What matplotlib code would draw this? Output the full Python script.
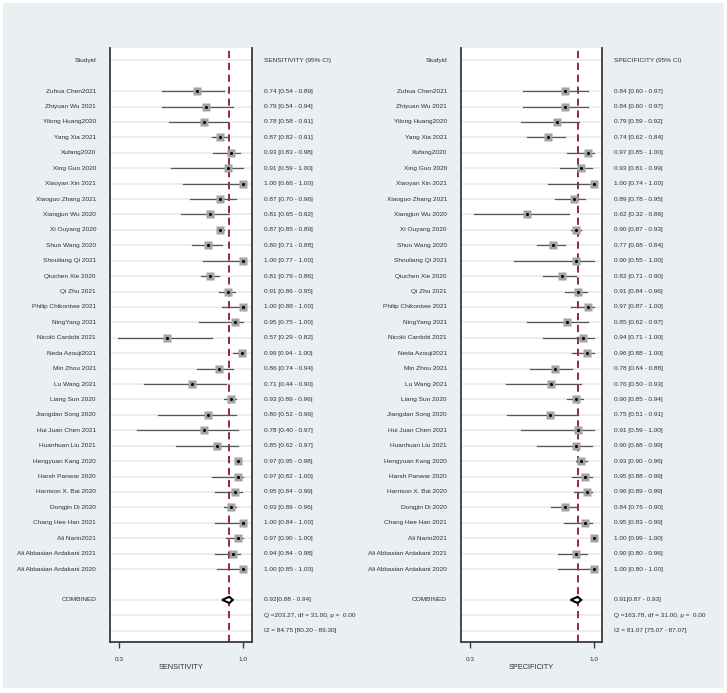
import matplotlib
matplotlib.use('Agg')
import matplotlib.pyplot as plt
from matplotlib.patches import Rectangle, Polygon
from matplotlib import font_manager
import matplotlib.transforms as mtransforms
import numpy as np

studies = ["Zuhua Chen2021", "Zhiyuan Wu 2021", "Yilong Huang2020", "Yang Xia 2021",
           "Xufang2020", "Xing Guo 2020", "Xiaoyan Xin 2021", "Xiaoguo Zhang 2021",
           "Xiangjun Wu 2020", "Xi Ouyang 2020", "Shuo Wang 2020", "Shouliang Qi 2021",
           "Qiuchen Xie 2020", "Qi Zhu 2021", "Philip Chikontwe 2021", "NingYang 2021",
           "Nicolò Cardobi 2021", "Neda Azouji2021", "Min Zhou 2021", "Lu Wang 2021",
           "Liang Sun 2020", "Jiangdan Song 2020", "Hui Juan Chen 2021", "Huanhuan Liu 2021",
           "Hengyuan Kang 2020", "Harsh Panwar 2020", "Harrison X. Bai 2020", "Dongjin Di 2020",
           "Chang Hee Han 2021", "Ali Narin2021", "Ali Abbasian Ardakani 2021",
           "Ali Abbasian Ardakani 2020"]

sens = [0.74, 0.79, 0.78, 0.87, 0.93, 0.91, 1.00, 0.87, 0.81, 0.87, 0.80, 1.00, 0.81, 0.91,
        1.00, 0.95, 0.57, 0.99, 0.86, 0.71, 0.93, 0.80, 0.78, 0.85, 0.97, 0.97, 0.95, 0.93,
        1.00, 0.97, 0.94, 1.00]
sens_lo = [0.54, 0.54, 0.58, 0.82, 0.83, 0.59, 0.66, 0.70, 0.65, 0.85, 0.71, 0.77, 0.76, 0.86,
           0.88, 0.75, 0.29, 0.94, 0.74, 0.44, 0.89, 0.52, 0.40, 0.62, 0.95, 0.82, 0.84, 0.89,
           0.84, 0.90, 0.84, 0.85]
sens_hi = [0.89, 0.94, 0.91, 0.91, 0.98, 1.00, 1.00, 0.96, 0.92, 0.89, 0.88, 1.00, 0.86, 0.95,
           1.00, 1.00, 0.82, 1.00, 0.94, 0.90, 0.96, 0.96, 0.97, 0.97, 0.98, 1.00, 0.99, 0.96,
           1.00, 1.00, 0.98, 1.00]

spec = [0.84, 0.84, 0.79, 0.74, 0.97, 0.93, 1.00, 0.89, 0.62, 0.90, 0.77, 0.90, 0.82, 0.91,
        0.97, 0.85, 0.94, 0.96, 0.78, 0.76, 0.90, 0.75, 0.91, 0.90, 0.93, 0.95, 0.96, 0.84,
        0.95, 1.00, 0.90, 1.00]
spec_lo = [0.60, 0.60, 0.59, 0.62, 0.85, 0.81, 0.74, 0.78, 0.32, 0.87, 0.68, 0.55, 0.71, 0.84,
           0.87, 0.62, 0.71, 0.88, 0.64, 0.50, 0.85, 0.51, 0.59, 0.68, 0.90, 0.88, 0.89, 0.76,
           0.83, 0.99, 0.80, 0.80]
spec_hi = [0.97, 0.97, 0.92, 0.84, 1.00, 0.99, 1.00, 0.95, 0.86, 0.93, 0.84, 1.00, 0.90, 0.96,
           1.00, 0.97, 1.00, 1.00, 0.88, 0.93, 0.94, 0.91, 1.00, 0.99, 0.96, 0.99, 0.99, 0.90,
           0.99, 1.00, 0.96, 1.00]

sens_pooled = [0.92, 0.88, 0.94]
spec_pooled = [0.91, 0.87, 0.93]
sens_q = "Q =203.27, df = 31.00, p =  0.00"
spec_q = "Q =163.78, df = 31.00, p =  0.00"
sens_i2 = "I2 = 84.75 [80.20 - 89.30]"
spec_i2 = "I2 = 81.07 [75.07 - 87.07]"

W, H = 727, 693
TXT = '#2e2e2e'

# narrow face if there is one, else shrink the normal one
try:
    font_manager.findfont(font_manager.FontProperties(family='Liberation Sans Narrow'),
                          fallback_to_default=False)
    FONT, FS = ['Liberation Sans Narrow', 'DejaVu Sans'], 5.6
except ValueError:
    FONT, FS = ['Liberation Sans', 'DejaVu Sans'], 4.65

fig = plt.figure(figsize=(W / 100, H / 100), dpi=100)
fig.patch.set_facecolor('white')
fig.patches.append(Rectangle((3 / W, 5 / H), 721 / W, 685 / H, transform=fig.transFigure,
                             facecolor='#eaeff2', edgecolor='none', zorder=-10))


def panel(x0, x1, est, lo, hi, pooled, qtxt, i2txt, header, xlabel):
    top, bottom = 48, 642
    ax = fig.add_axes([x0 / W, (H - bottom) / H, (x1 - x0) / W, (bottom - top) / H])
    ax.set_facecolor('white')
    ax.set_xlim(0.247, 1.048)
    ax.set_ylim(37.73, -0.8)
    n = len(studies)
    ys = np.arange(n) + 2
    y_comb = n + 3

    grid_rows = [0] + list(ys) + [y_comb, y_comb + 1, y_comb + 2]
    for g in grid_rows:
        ax.axhline(g, color='#ececec', lw=1.3, zorder=1)

    ax.axvline(pooled[0], color='#8b1538', lw=1.3, dashes=(4, 2.6), zorder=2)

    for y, e, l, h in zip(ys, est, lo, hi):
        ax.plot([l, h], [y, y], color='#555555', lw=0.9, zorder=3)
    ax.plot(est, ys, 's', ms=5.4, mfc='#a3a3a3', mec='none', zorder=4)
    ax.plot(est, ys, 'o', ms=2.2, mfc='black', mec='none', zorder=5)

    p, plo, phi = pooled
    dh = 0.2
    ax.add_patch(Polygon([[plo, y_comb], [p, y_comb - dh], [phi, y_comb], [p, y_comb + dh]],
                         closed=True, facecolor='white', edgecolor='black', lw=1.5, zorder=6))

    tr = mtransforms.blended_transform_factory(ax.transAxes, ax.transData)
    lx = -14 / (x1 - x0)
    rx = (1 + 11.5 / (x1 - x0))
    kw = dict(fontsize=FS, family=FONT, color=TXT, va='center', transform=tr, clip_on=False)
    ax.text(lx, 0, 'Studyid', ha='right', **kw)
    ax.text(rx, 0, header, ha='left', **kw)
    for y, s, e, l, h in zip(ys, studies, est, lo, hi):
        ax.text(lx, y, s, ha='right', **kw)
        ax.text(rx, y, f"{e:.2f} [{l:.2f} - {h:.2f}]", ha='left', **kw)
    ax.text(lx, y_comb, 'COMBINED', ha='right', **kw)
    ax.text(rx, y_comb, f"{p:.2f}[{plo:.2f} - {phi:.2f}]", ha='left', **kw)
    ax.text(rx, y_comb + 1, qtxt, ha='left', **kw)
    ax.text(rx, y_comb + 2, i2txt, ha='left', **kw)

    for side in ['left', 'right', 'bottom']:
        ax.spines[side].set_color('#3a3a3a')
        ax.spines[side].set_linewidth(1.3)
    ax.spines['top'].set_visible(False)
    ax.set_yticks([])
    ax.set_xticks([0.3, 1.0])
    ax.set_xticklabels(['0.3', '1.0'], fontsize=FS, family=FONT, color=TXT)
    ax.tick_params(axis='x', direction='out', length=4.5, width=1, color='#3a3a3a', pad=6)
    ax.set_xlabel(xlabel, fontsize=FS * 1.15, family=FONT, color=TXT, labelpad=2)
    return ax


panel(110, 252, sens, sens_lo, sens_hi, sens_pooled, sens_q, sens_i2,
      'SENSITIVITY (95% CI)', 'SENSITIVITY')
panel(461, 602, spec, spec_lo, spec_hi, spec_pooled, spec_q, spec_i2,
      'SPECIFICITY (95% CI)', 'SPECIFICITY')

fig.savefig('out.png', dpi=100)
